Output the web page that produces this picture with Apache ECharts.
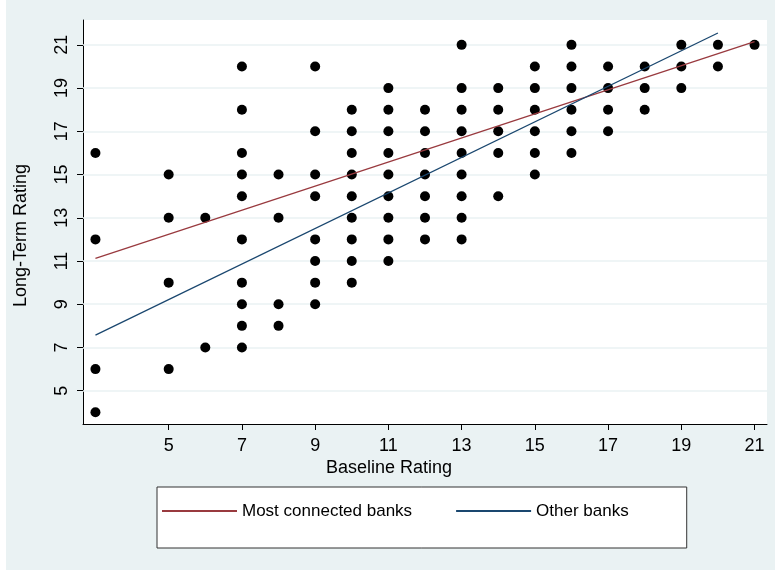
<!DOCTYPE html>
<html>
<head>
<meta charset="utf-8">
<script src="https://cdn.jsdelivr.net/npm/echarts@6/dist/echarts.min.js"></script>
<style>
  html, body { margin: 0; padding: 0; background: #ffffff; }
  #wrap { position: relative; width: 775px; height: 571px; }
  #panel { position: absolute; left: 6px; top: 0; width: 769px; height: 570px; background: #eaf2f3; }
  #chart { position: absolute; left: 0; top: 0; width: 775px; height: 571px; }
</style>
</head>
<body>
<div id="wrap">
  <div id="panel"></div>
  <div id="chart"></div>
</div>
<script>
// Baseline rating columns and the long-term ratings observed in each column
const baselineRatings = [3, 5, 6, 7, 8, 9, 10, 11, 12, 13, 14, 15, 16, 17, 18, 19, 20, 21];
const longTermByBaseline = [
  [16, 12, 6, 4],
  [15, 13, 10, 6],
  [13, 7],
  [20, 18, 16, 15, 14, 12, 10, 9, 8, 7],
  [15, 13, 9, 8],
  [20, 17, 15, 14, 12, 11, 10, 9],
  [18, 17, 16, 15, 14, 13, 12, 11, 10],
  [19, 18, 17, 16, 15, 14, 13, 12, 11],
  [18, 17, 16, 15, 14, 13, 12],
  [21, 19, 18, 17, 16, 15, 14, 13, 12],
  [19, 18, 17, 16, 14],
  [20, 19, 18, 17, 16, 15],
  [21, 20, 19, 18, 17, 16],
  [20, 19, 18, 17],
  [20, 19, 18],
  [21, 20, 19],
  [21, 20],
  [21]
];

// Linear fit endpoints
const mostConnectedFit = [[3, 11.12], [21, 21.15]];
const otherBanksFit = [[3, 7.57], [20, 21.55]];

// Tick positions
const xTicks = [5, 7, 9, 11, 13, 15, 17, 19, 21];
const yTicks = [5, 7, 9, 11, 13, 15, 17, 19, 21];

const points = [];
baselineRatings.forEach((b, i) => {
  longTermByBaseline[i].forEach(v => points.push([b, v]));
});

const FONT = '"Liberation Sans", Arial, Helvetica, sans-serif';
const RED = '#993a3f';
const BLUE = '#1a476f';

const chart = echarts.init(document.getElementById('chart'), null, { renderer: 'canvas' });
chart.setOption({
  backgroundColor: 'transparent',
  animation: false,
  textStyle: { fontFamily: FONT },
  grid: {
    left: 83, top: 20, right: 8, bottom: 147,
    show: true, backgroundColor: '#ffffff', borderWidth: 0
  },
  xAxis: {
    type: 'value',
    min: 2.66, max: 21.34,
    axisLine: { show: true, onZero: false, lineStyle: { color: '#000', width: 1 } },
    axisTick: { show: true, length: 6, customValues: xTicks, lineStyle: { color: '#000' } },
    axisLabel: { customValues: xTicks, fontSize: 18, color: '#000', margin: 13, fontFamily: FONT },
    splitLine: { show: false }
  },
  yAxis: {
    type: 'value',
    min: 3.46, max: 22.15,
    axisLine: { show: true, onZero: false, lineStyle: { color: '#000', width: 1 } },
    axisTick: { show: true, length: 6, customValues: yTicks, lineStyle: { color: '#000' } },
    axisLabel: { customValues: yTicks, fontSize: 18, color: '#000', margin: 12, rotate: 90, fontFamily: FONT },
    splitLine: { show: false }
  },
  graphic: [
    {
      type: 'text', left: 326, top: 459, silent: true,
      style: { text: 'Baseline Rating', fill: '#000', font: '18px ' + FONT }
    },
    {
      type: 'text', x: 12, y: 307, rotation: Math.PI / 2, silent: true,
      style: { text: 'Long-Term Rating', fill: '#000', font: '18px ' + FONT, verticalAlign: 'top' }
    }
  ],
  legend: {
    left: 157, top: 487,
    orient: 'horizontal',
    padding: [14, 58, 27, 5],
    itemGap: 44,
    itemWidth: 75, itemHeight: 2,
    backgroundColor: '#ffffff',
    borderColor: '#333', borderWidth: 1, borderRadius: 0,
    textStyle: { fontSize: 17, color: '#000', fontFamily: FONT, lineHeight: 20 },
    data: [
      { name: 'Most connected banks', icon: 'rect', itemStyle: { color: RED } },
      { name: 'Other banks', icon: 'rect', itemStyle: { color: BLUE } }
    ]
  },
  series: [
    {
      // horizontal grid lines at the y ticks, kept on the lower layer
      name: 'grid', type: 'line', data: [], zlevel: 0, z: 1, silent: true,
      markLine: {
        silent: true, symbol: 'none', label: { show: false },
        lineStyle: { color: '#eaf2f3', width: 1.5, type: 'solid' },
        data: yTicks.map(v => ({ yAxis: v }))
      }
    },
    {
      name: 'Ratings', type: 'scatter', data: points, zlevel: 1, z: 3,
      symbol: 'circle', symbolSize: 10,
      itemStyle: { color: '#000', opacity: 1 }
    },
    {
      name: 'Most connected banks', type: 'line', data: mostConnectedFit, zlevel: 1, z: 4,
      symbol: 'none', lineStyle: { color: RED, width: 1.3 }, itemStyle: { color: RED }
    },
    {
      name: 'Other banks', type: 'line', data: otherBanksFit, zlevel: 1, z: 4,
      symbol: 'none', lineStyle: { color: BLUE, width: 1.3 }, itemStyle: { color: BLUE }
    }
  ]
});
</script>
</body>
</html>
